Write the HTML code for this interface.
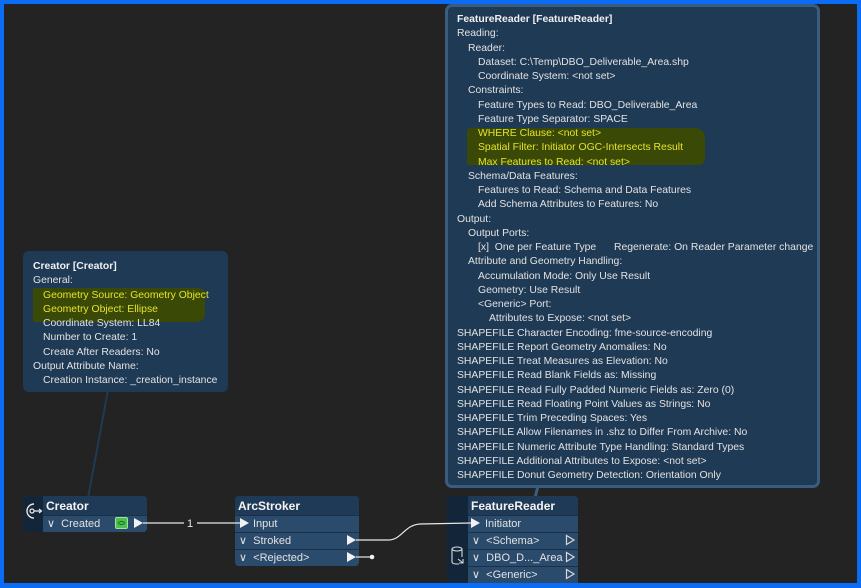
<!DOCTYPE html>
<html><head><meta charset="utf-8">
<style>
*{margin:0;padding:0;box-sizing:border-box}
html,body{width:861px;height:588px;overflow:hidden;background:#0b6cf5}
body{position:relative;font-family:"Liberation Sans",Arial,sans-serif}
#canvas{position:absolute;left:4px;top:4px;width:853px;height:579px;background:#232323}
.tip{position:absolute;background:#1f3a55;border-radius:6px}
.lines{position:absolute;font-size:10.4px;line-height:14.25px;color:#e2e2e2;white-space:nowrap}
.lines div{height:14.25px}
.b{font-weight:bold;color:#f0f0f0}
.y{color:#e4e42c}
.hl{position:absolute;background:#3a4906}
.node{position:absolute;border-radius:4px;overflow:hidden;background:#2a4a6c}
.icol{position:absolute;left:0;top:0;bottom:0;background:#132538}
.hdr{position:absolute;background:#1f3a57;color:#f4f4f4;font-weight:bold;font-size:12px;line-height:20px;white-space:nowrap}
.row{position:absolute;background:#2b4b6d;color:#e2e2e2;font-size:11px;line-height:16px;border-top:1px solid #1b3046;white-space:nowrap}
</style></head><body>
<div id="canvas"></div>

<svg style="position:absolute;left:0;top:0" width="861" height="588">
  <line x1="108" y1="390" x2="88" y2="498" stroke="#1f3a55" stroke-width="2"/>
  <line x1="538" y1="486" x2="535" y2="498" stroke="#3b5e80" stroke-width="3"/>
</svg>

<!-- FeatureReader tooltip -->
<div class="tip" style="left:445px;top:4px;width:375px;height:484px;border:3px solid #3a5d7f;border-radius:7px"></div>
<div class="hl" style="left:467px;top:128px;width:238px;height:37px;border-radius:3px 10px 6px 3px"></div>
<div class="lines" style="left:457px;top:13px">
<div class="b">FeatureReader [FeatureReader]</div>
<div>Reading:</div>
<div style="padding-left:11px">Reader:</div>
<div style="padding-left:21px">Dataset: C:\Temp\DBO_Deliverable_Area.shp</div>
<div style="padding-left:21px">Coordinate System: &lt;not set&gt;</div>
<div style="padding-left:11px">Constraints:</div>
<div style="padding-left:21px">Feature Types to Read: DBO_Deliverable_Area</div>
<div style="padding-left:21px">Feature Type Separator: SPACE</div>
<div style="padding-left:21px" class="y">WHERE Clause: &lt;not set&gt;</div>
<div style="padding-left:21px" class="y">Spatial Filter: Initiator OGC-Intersects Result</div>
<div style="padding-left:21px" class="y">Max Features to Read: &lt;not set&gt;</div>
<div style="padding-left:11px">Schema/Data Features:</div>
<div style="padding-left:21px">Features to Read: Schema and Data Features</div>
<div style="padding-left:21px">Add Schema Attributes to Features: No</div>
<div>Output:</div>
<div style="padding-left:11px">Output Ports:</div>
<div style="padding-left:21px;position:relative">[x]&nbsp; One per Feature Type<span style="position:absolute;left:157px;top:0">Regenerate: On Reader Parameter change</span></div>
<div style="padding-left:11px">Attribute and Geometry Handling:</div>
<div style="padding-left:21px">Accumulation Mode: Only Use Result</div>
<div style="padding-left:21px">Geometry: Use Result</div>
<div style="padding-left:21px">&lt;Generic&gt; Port:</div>
<div style="padding-left:32px">Attributes to Expose: &lt;not set&gt;</div>
<div>SHAPEFILE Character Encoding: fme-source-encoding</div>
<div>SHAPEFILE Report Geometry Anomalies: No</div>
<div>SHAPEFILE Treat Measures as Elevation: No</div>
<div>SHAPEFILE Read Blank Fields as: Missing</div>
<div>SHAPEFILE Read Fully Padded Numeric Fields as: Zero (0)</div>
<div>SHAPEFILE Read Floating Point Values as Strings: No</div>
<div>SHAPEFILE Trim Preceding Spaces: Yes</div>
<div>SHAPEFILE Allow Filenames in .shz to Differ From Archive: No</div>
<div>SHAPEFILE Numeric Attribute Type Handling: Standard Types</div>
<div>SHAPEFILE Additional Attributes to Expose: &lt;not set&gt;</div>
<div>SHAPEFILE Donut Geometry Detection: Orientation Only</div>
</div>

<!-- Creator tooltip -->
<div class="tip" style="left:23px;top:251px;width:205px;height:141px"></div>
<div class="hl" style="left:33px;top:288px;width:172px;height:34px;border-radius:2px 6px 8px 2px"></div>
<div class="lines" style="left:33px;top:260px">
<div class="b">Creator [Creator]</div>
<div>General:</div>
<div style="padding-left:10px" class="y">Geometry Source: Geometry Object</div>
<div style="padding-left:10px" class="y">Geometry Object: Ellipse</div>
<div style="padding-left:10px">Coordinate System: LL84</div>
<div style="padding-left:10px">Number to Create: 1</div>
<div style="padding-left:10px">Create After Readers: No</div>
<div>Output Attribute Name:</div>
<div style="padding-left:10px">Creation Instance: _creation_instance</div>
</div>

<!-- Creator node -->
<div class="node" style="left:23px;top:496px;width:124px;height:36px">
  <div class="icol" style="width:20px"></div>
  <div class="hdr" style="left:20px;top:0;right:0;height:19px;padding-left:3px">Creator</div>
  <div class="row" style="left:20px;top:19px;right:0;height:17px;padding-left:4px">∨&nbsp; Created</div>
  <div style="position:absolute;left:92px;top:21px;width:13px;height:12px;background:#4bbf4f;border:1px solid #9be59c;border-radius:2px"></div>
  <div style="position:absolute;left:95px;top:25px;width:7px;height:4px;border:1px solid #1d6a22;border-radius:50%"></div>
</div>
<svg style="position:absolute;left:23px;top:496px" width="20" height="36">
  <path d="M11 8 A6 6 0 1 0 11 22" fill="none" stroke="#e8e8e8" stroke-width="1.4"/>
  <circle cx="9" cy="15" r="2" fill="none" stroke="#e8e8e8" stroke-width="1.3"/>
  <line x1="11" y1="15" x2="18" y2="15" stroke="#e8e8e8" stroke-width="1.3"/>
  <path d="M16 13 L18.5 15 L16 17" fill="none" stroke="#e8e8e8" stroke-width="1.2"/>
</svg>

<!-- ArcStroker node -->
<div class="node" style="left:235px;top:496px;width:124px;height:70px">
  <div class="hdr" style="left:0;top:0;right:0;height:19px;padding-left:3px">ArcStroker</div>
  <div class="row" style="left:0;top:19px;right:0;height:17px;padding-left:18px">Input</div>
  <div class="row" style="left:0;top:36px;right:0;height:17px;padding-left:4px">∨&nbsp; Stroked</div>
  <div class="row" style="left:0;top:53px;right:0;height:17px;padding-left:4px">∨&nbsp; &lt;Rejected&gt;</div>
</div>

<!-- FeatureReader node -->
<div class="node" style="left:447px;top:496px;width:131px;height:92px;border-radius:4px 4px 0 0">
  <div class="icol" style="width:21px"></div>
  <div class="hdr" style="left:21px;top:0;right:0;height:19px;padding-left:3px">FeatureReader</div>
  <div class="row" style="left:21px;top:19px;right:0;height:17px;padding-left:17px">Initiator</div>
  <div class="row" style="left:21px;top:36px;right:0;height:17px;padding-left:4px">∨&nbsp; &lt;Schema&gt;</div>
  <div class="row" style="left:21px;top:53px;right:0;height:17px;padding-left:4px">∨&nbsp; DBO_D..._Area</div>
  <div class="row" style="left:21px;top:70px;right:0;height:17px;padding-left:4px">∨&nbsp; &lt;Generic&gt;</div>
</div>
<svg style="position:absolute;left:447px;top:496px" width="21" height="87">
  <ellipse cx="10" cy="53" rx="5" ry="2" fill="none" stroke="#d8d8d8" stroke-width="1.1"/>
  <path d="M5 53 L5 66 Q5 68 10 68 L12 68 M15 53 L15 61" fill="none" stroke="#d8d8d8" stroke-width="1.1"/>
  <path d="M11 63 L16 67 M16 63 L16 67 L12 67" fill="none" stroke="#d8d8d8" stroke-width="1.1"/>
</svg>

<!-- connectors -->
<svg style="position:absolute;left:0;top:0" width="861" height="588">
  <g fill="#f2f2f2">
    <path d="M134 518 L143 523 L134 528 Z"/>
    <path d="M240 518 L249 523 L240 528 Z"/>
    <path d="M347 535 L356 540 L347 545 Z"/>
    <path d="M347 552 L356 557 L347 562 Z"/>
    <path d="M471 518 L480 523 L471 528 Z"/>
  </g>
  <g stroke="#e8e8e8" stroke-width="1.2" fill="none">
    <line x1="143" y1="523" x2="184" y2="523"/>
    <line x1="197" y1="523" x2="240" y2="523"/>
    <path d="M356 540 L388 540 C402 540 404 525 420 524 L471 523"/>
    <line x1="356" y1="557" x2="371" y2="557"/>
  </g>
  <circle cx="372" cy="557" r="2.3" fill="#f0f0f0"/>
  <text x="190" y="527" font-family="Liberation Sans, sans-serif" font-size="11" fill="#e8e8e8" text-anchor="middle">1</text>
  <g fill="none" stroke="#d8d8d8" stroke-width="1.2">
    <path d="M566.5 535.5 L574 540 L566.5 544.5 Z"/>
    <path d="M566.5 552.5 L574 557 L566.5 561.5 Z"/>
    <path d="M566.5 569.5 L574 574 L566.5 578.5 Z"/>
  </g>
</svg>

<div style="position:absolute;left:0;top:583px;width:861px;height:5px;background:#0b6cf5"></div>
<div style="position:absolute;left:857px;top:0;width:4px;height:588px;background:#0b6cf5"></div>
</body></html>
